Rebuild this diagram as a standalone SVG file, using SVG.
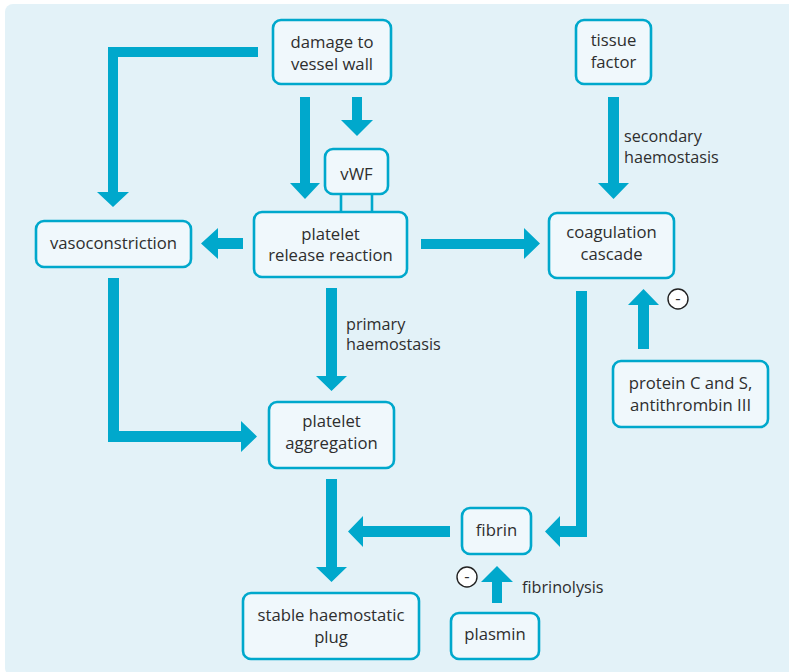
<svg xmlns="http://www.w3.org/2000/svg" width="789" height="672" viewBox="0 0 789 672">
<style>
.bg{fill:#e3f2f8}
.box{fill:#f0f8fc;stroke:#00a8cc;stroke-width:2.6}
.arr{fill:#00a8cc}
.lnk{stroke:#00a8cc;stroke-width:2.6;fill:none}
text{font-family:"Open Sans","Noto Sans","Liberation Sans",sans-serif;font-size:16.7px;fill:#2e2e2e}
.lbl{font-size:16.2px}
.c{text-anchor:middle}
.minus{fill:#ffffff;stroke:#222222;stroke-width:1.4}
</style>
<rect class="bg" x="5" y="4" width="800" height="672" rx="8"/>
<g id="connectors">
<path class="arr" d="M258,47 H108 V192 H97 L113,207 L129,192 H118 V57 H258 Z"/>
<path class="arr" d="M300,97 H310 V183 H320 L305,199 L290,183 H300 Z"/>
<path class="arr" d="M352,97 H362 V120 H373 L357,136 L341,120 H352 Z"/>
<path class="arr" d="M243,238 V249 H218 V259 L201,243.5 L218,228 V238 Z"/>
<path class="arr" d="M421,239 H524 V228 L540,243.5 L524,259 V249 H421 Z"/>
<path class="arr" d="M608,97 H619 V183 H629 L613.5,199 L598,183 H608 Z"/>
<path class="arr" d="M326,288 H337 V376 H347 L331.5,391 L316,376 H326 Z"/>
<path class="arr" d="M108,278 H119 V431 H241 V421 L257,436.5 L241,452 V442 H108 Z"/>
<path class="arr" d="M326,479 H337 V567 H347 L331.5,582 L316,567 H326 Z"/>
<path class="arr" d="M576,291 H587 V537 H560 V547 L545,531.5 L560,516 V526 H576 Z"/>
<path class="arr" d="M450,526 V537 H363 V547 L348,531.5 L363,516 V526 Z"/>
<path class="arr" d="M638,349 V305 H628 L643.5,289 L659,305 H649 V349 Z"/>
<path class="arr" d="M492,603 V582 H481 L497,566 L513,582 H502 V603 Z"/>
<line class="lnk" x1="341" y1="194" x2="341" y2="212"/>
<line class="lnk" x1="372" y1="194" x2="372" y2="212"/>
<text class="lbl" x="624" y="142">secondary</text>
<text class="lbl" x="624" y="163">haemostasis</text>
<text class="lbl" x="346" y="330">primary</text>
<text class="lbl" x="346" y="350">haemostasis</text>
<text class="lbl" x="522" y="593">fibrinolysis</text>
<circle class="minus" cx="678" cy="299" r="10"/>
<text class="c" x="678" y="304">-</text>
<circle class="minus" cx="467" cy="577" r="10"/>
<text class="c" x="467" y="582">-</text>
</g>
<g id="damage">
<rect class="box" x="273" y="20" width="118" height="64" rx="8"/>
<text class="c" x="332" y="48">damage to</text>
<text class="c" x="332" y="70">vessel wall</text>
</g>
<g id="vwf">
<rect class="box" x="325" y="149" width="63" height="45" rx="8"/>
<text class="c" x="356.5" y="180">vWF</text>
</g>
<g id="platelet-release">
<rect class="box" x="254" y="212" width="153" height="65" rx="8"/>
<text class="c" x="330.5" y="240">platelet</text>
<text class="c" x="330.5" y="261">release reaction</text>
</g>
<g id="vasoconstriction">
<rect class="box" x="36" y="221" width="155" height="46" rx="8"/>
<text class="c" x="113.5" y="249">vasoconstriction</text>
</g>
<g id="tissue-factor">
<rect class="box" x="576" y="20" width="75" height="64" rx="8"/>
<text class="c" x="613.5" y="46">tissue</text>
<text class="c" x="613.5" y="68">factor</text>
</g>
<g id="coagulation">
<rect class="box" x="549" y="213" width="125" height="65" rx="8"/>
<text class="c" x="611.5" y="238">coagulation</text>
<text class="c" x="611.5" y="260">cascade</text>
</g>
<g id="protein-c">
<rect class="box" x="613" y="361" width="155" height="66" rx="8"/>
<text class="c" x="690.5" y="389">protein C and S,</text>
<text class="c" x="690.5" y="411">antithrombin III</text>
</g>
<g id="platelet-aggregation">
<rect class="box" x="269" y="402" width="125" height="66" rx="8"/>
<text class="c" x="331.5" y="427">platelet</text>
<text class="c" x="331.5" y="449">aggregation</text>
</g>
<g id="fibrin">
<rect class="box" x="462" y="508" width="69" height="46" rx="8"/>
<text class="c" x="496.5" y="536">fibrin</text>
</g>
<g id="plug">
<rect class="box" x="243" y="593" width="176" height="66" rx="8"/>
<text class="c" x="331" y="621">stable haemostatic</text>
<text class="c" x="331" y="643">plug</text>
</g>
<g id="plasmin">
<rect class="box" x="451" y="613" width="88" height="46" rx="8"/>
<text class="c" x="495" y="640">plasmin</text>
</g>
</svg>
